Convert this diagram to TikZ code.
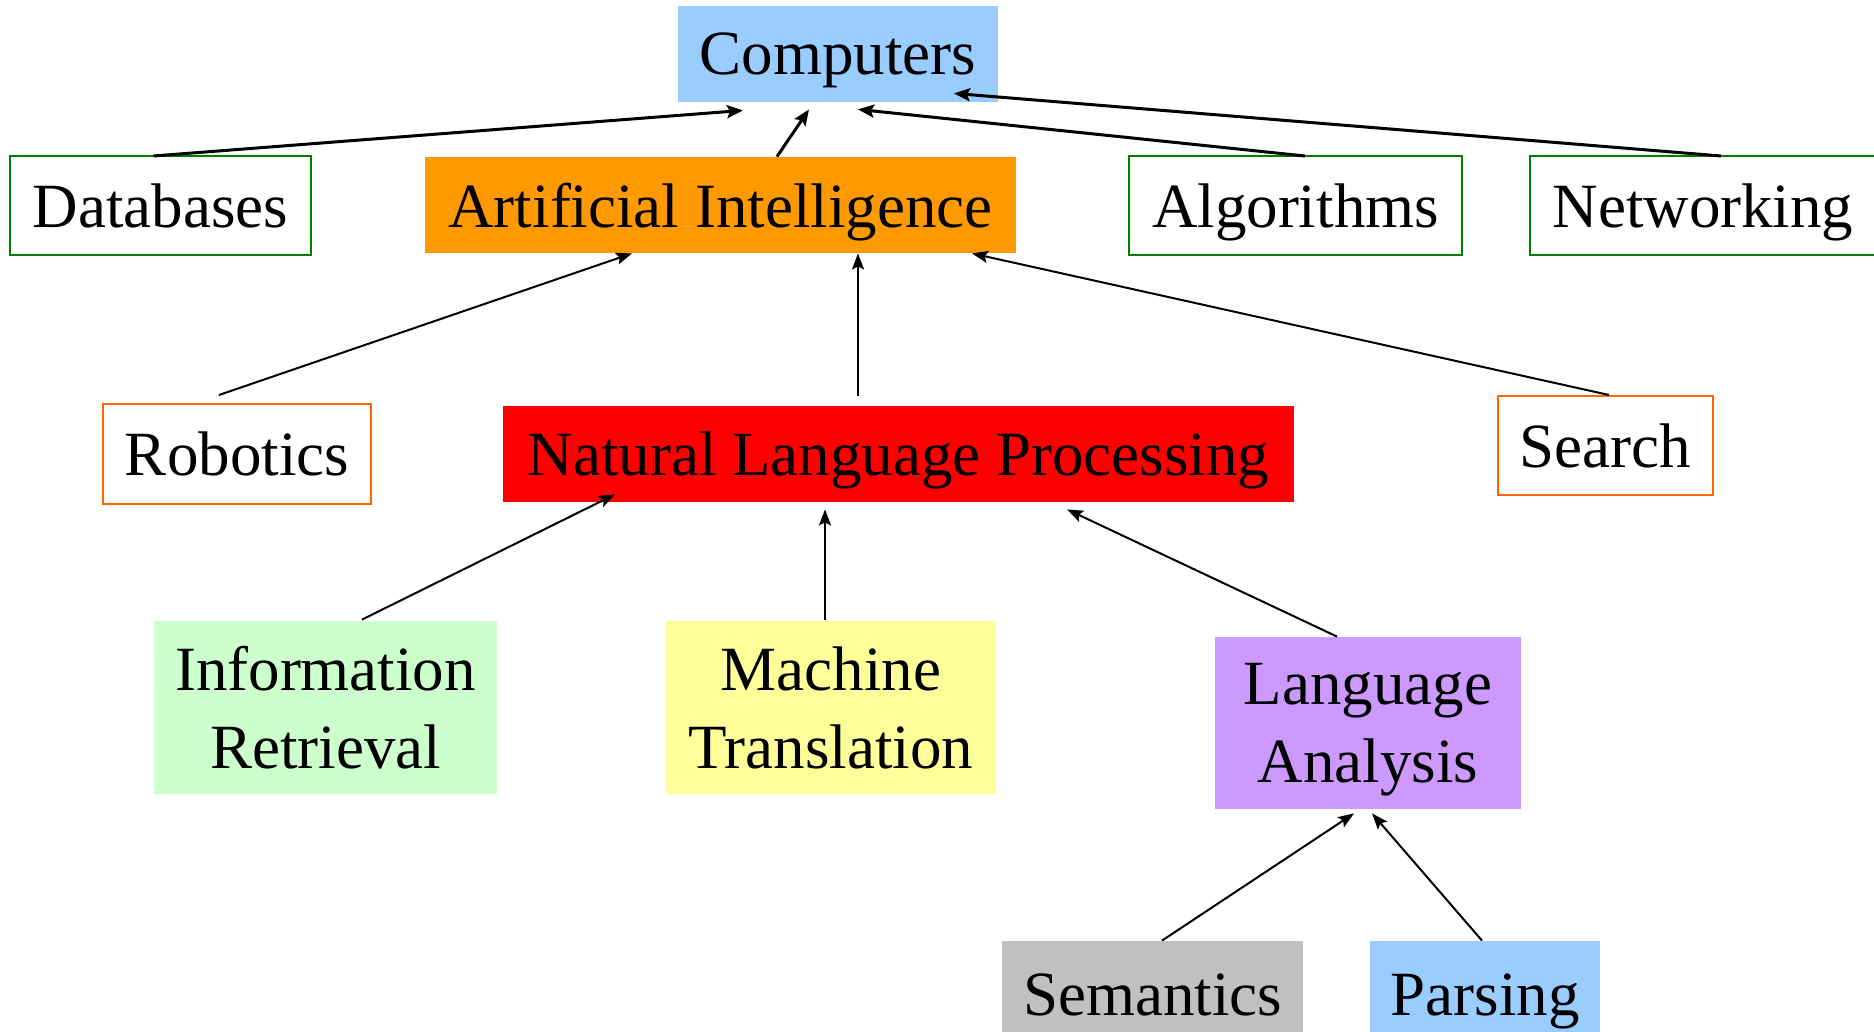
\documentclass[tikz,border=0pt]{standalone}
\usepackage{fontspec}
\setmainfont{Liberation Serif}
\usetikzlibrary{arrows.meta,calc}
\definecolor{cblue}{HTML}{99CCFF}
\definecolor{corange}{HTML}{FF9900}
\definecolor{cred}{HTML}{FF0000}
\definecolor{cgreenf}{HTML}{CCFFCC}
\definecolor{cyellow}{HTML}{FFFF99}
\definecolor{cviolet}{HTML}{CC99FF}
\definecolor{cgray}{HTML}{C0C0C0}
\definecolor{bgreen}{HTML}{008000}
\definecolor{borange}{HTML}{FF6600}
\begin{document}
\begin{tikzpicture}[x=0.5pt,y=-0.5pt,
  every node/.style={font=\fontsize{31.5pt}{39pt}\selectfont, inner sep=0pt, align=center, text depth=0pt},
  gbox/.style={draw=bgreen, line width=1pt, fill=white},
  obox/.style={draw=borange, line width=1pt, fill=white},
  fbox/.style={draw=none},
  thick arrow/.style={line width=1.5pt, -{Stealth[length=8pt,width=6.5pt,inset=1.5pt]}},
  thin arrow/.style={line width=1pt, -{Stealth[length=8pt,width=6pt,inset=1.5pt]}}]
\useasboundingbox (0,0) rectangle (1874,1032);
\clip (0,0) rectangle (1874,1032);
% nodes
\node[fbox, fill=cblue, minimum width=160pt, minimum height=48pt] (comp) at (838,54) {Computers};
\node[gbox, minimum width=150.5pt, minimum height=49.5pt] (db) at (160.5,205.5) {Databases};
\node[fbox, fill=corange, minimum width=295.5pt, minimum height=48pt] (ai) at (720.5,205) {Artificial Intelligence};
\node[gbox, minimum width=166.5pt, minimum height=49.5pt] (alg) at (1295.5,205.5) {Algorithms};
\node[gbox, minimum width=173pt, minimum height=49.5pt] (net) at (1703,205.5) {Networking};
\node[obox, minimum width=134pt, minimum height=50pt] (rob) at (237,454) {Robotics};
\node[fbox, fill=cred, minimum width=395.5pt, minimum height=48pt] (nlp) at (898.5,454) {Natural Language Processing};
\node[obox, minimum width=107.5pt, minimum height=49.5pt] (search) at (1605.5,445.5) {Search};
\node[fbox, fill=cgreenf, minimum width=171.5pt, minimum height=86.5pt] (ir) at (325.5,707.5) {Information\\Retrieval};
\node[fbox, fill=cyellow, minimum width=165pt, minimum height=86.5pt] (mt) at (831,707.5) {Machine\\Translation};
\node[fbox, fill=cviolet, minimum width=153pt, minimum height=86pt] (la) at (1368,723) {Language\\Analysis};
\node[fbox, fill=cgray, minimum width=150.5pt, minimum height=54pt] (sem) at (1152.5,995) {Semantics};
\node[fbox, fill=cblue, minimum width=115pt, minimum height=54pt] (par) at (1485,995) {Parsing};
% connectors to Computers
\draw[thick arrow] ($(db.north)+(-7,1)$) -- ($(comp.south)+(-95,8)$);
\draw[thick arrow] ($(ai.north)+(56.5,0)$) -- ($(comp.south)+(-29,7)$);
\draw[thick arrow] ($(alg.north)+(9.5,1)$) -- ($(comp.south)+(20,7)$);
\draw[thick arrow] ($(net.north)+(18,1)$) -- ($(comp.south)+(116,-9)$);
% connectors to AI
\draw[thin arrow] ($(rob.north)+(-18,-8)$) -- ($(ai.south)+(-88.5,0)$);
\draw[thin arrow] ($(nlp.north)+(-40.5,-10)$) -- ($(ai.south)+(137.5,0)$);
\draw[thin arrow] ($(search.north)+(3.5,0)$) -- ($(ai.south)+(251.5,0)$);
% connectors to NLP
\draw[thin arrow] ($(ir.north)+(36.5,-1)$) -- ($(nlp.south)+(-283.5,-8)$);
\draw[thin arrow] ($(mt.north)+(-6,-1)$) -- ($(nlp.south)+(-73.5,7)$);
\draw[thin arrow] ($(la.north)+(-31,0)$) -- ($(nlp.south)+(168.5,7)$);
% connectors to Language Analysis
\draw[thin arrow] ($(sem.north)+(9.5,0)$) -- ($(la.south)+(-14,4)$);
\draw[thin arrow] ($(par.north)+(-3,0)$) -- ($(la.south)+(4,4)$);
\end{tikzpicture}
\end{document}
